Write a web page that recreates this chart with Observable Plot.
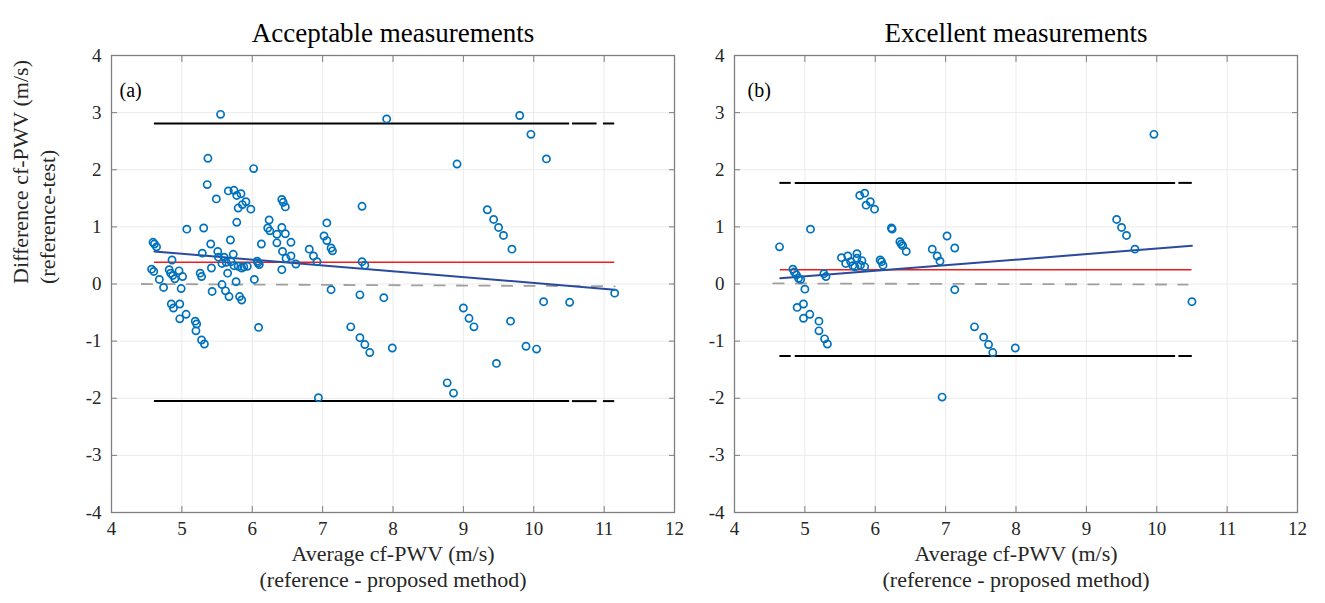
<!DOCTYPE html>
<html><head><meta charset="utf-8">
<script src="https://cdn.jsdelivr.net/npm/d3@7"></script>
<script src="https://cdn.jsdelivr.net/npm/@observablehq/plot@0.6"></script>
<style>
body{margin:0;background:#fff;}
#row{display:flex;width:1325px;height:603px;overflow:hidden;}
svg{display:block}
svg text{font-family:'Liberation Serif','Times New Roman',serif !important;}
</style></head><body><div id="row"></div>
<script>
// ---------- data ----------
const xTicks = [4,5,6,7,8,9,10,11,12];
const yTicks = [-4,-3,-2,-1,0,1,2,3,4];
const titles = ["Acceptable measurements", "Excellent measurements"];
const panelLabels = ["(a)", "(b)"];
const yLabelLines = ["Difference cf-PWV (m/s)", "(reference-test)"];
const xLabelLines = ["Average cf-PWV (m/s)", "(reference - proposed method)"];

// (a) acceptable measurements
const aX = [5.55,7.91,9.80,9.96,10.18,8.91,5.37,6.02,5.36,5.49,5.66,5.74,5.78,5.84,5.91,5.86,5.80,5.98,6.42,6.44,6.47,7.56,9.34,9.43,9.50,9.57,9.69,
  5.07,5.31,5.78,6.24,6.22,6.25,6.42,6.35,6.47,7.06,7.02,7.06,7.12,7.14,4.59,4.61,4.64,4.86,5.41,5.69,6.13,6.35,6.55,5.29,5.51,5.52,5.60,5.73,6.43,6.48,6.55,6.81,6.87,6.92,7.56,7.60,
  5.57,5.63,5.70,5.74,5.80,5.85,5.88,5.93,6.07,6.08,6.10,6.62,6.42,5.65,5.42,
  4.57,4.60,4.82,4.84,4.87,4.90,4.96,5.01,5.26,5.28,4.68,4.74,4.99,5.77,6.03,5.57,5.43,5.62,5.67,5.82,5.85,7.12,7.53,7.87,
  4.85,4.88,4.97,4.97,5.06,5.19,5.21,5.20,5.28,5.32,6.09,6.94,7.40,7.53,7.60,7.67,7.99,
  11.15,10.14,10.51,9.00,9.08,9.15,9.67,9.89,10.04,9.47,8.77,8.86];
const aY = [2.97,2.89,2.95,2.62,2.19,2.10,2.20,2.02,1.74,1.49,1.63,1.64,1.55,1.58,1.44,1.39,1.33,1.31,1.48,1.43,1.35,1.36,1.30,1.13,0.99,0.85,0.61,
  0.96,0.98,1.08,1.12,0.98,0.93,0.99,0.87,0.88,1.07,0.84,0.76,0.63,0.58,0.73,0.70,0.65,0.42,0.70,0.77,0.70,0.72,0.73,0.54,0.57,0.47,0.47,0.52,0.57,0.45,0.49,0.61,0.49,0.39,0.39,0.33,
  0.36,0.38,0.39,0.32,0.31,0.28,0.30,0.31,0.40,0.37,0.34,0.35,0.25,0.19,0.28,
  0.26,0.22,0.25,0.19,0.15,0.09,0.23,0.13,0.19,0.13,0.08,-0.06,-0.08,0.04,0.08,-0.01,-0.13,-0.12,-0.22,-0.22,-0.28,-0.10,-0.19,-0.24,
  -0.35,-0.42,-0.35,-0.61,-0.53,-0.65,-0.70,-0.82,-0.98,-1.05,-0.76,-1.99,-0.75,-0.94,-1.06,-1.20,-1.12,
  -0.16,-0.31,-0.32,-0.42,-0.60,-0.75,-0.65,-1.09,-1.14,-1.39,-1.73,-1.91];
const aMean = 0.38;
const aMeanRange = [4.61, 11.15];
const aUpperLoA = 2.81, aLowerLoA = -2.05;
const aLoASegments = [[4.61,10.51],[10.55,10.90],[10.99,11.15]];
const aRegX = [4.61, 11.15], aRegY = [0.57, -0.10];
const aZeroX = [4.43, 11.15], aZeroY = [0.00, -0.04];

// (b) excellent measurements
const bX = [4.64,4.83,4.85,4.88,4.91,4.94,5.00,5.08,4.89,4.98,4.98,5.07,5.20,5.20,5.28,5.32,5.27,5.30,5.52,5.58,5.61,5.65,5.68,5.74,5.74,5.81,5.79,5.85,5.71,
  5.78,5.85,5.93,5.87,5.99,6.24,6.23,6.35,6.37,6.39,6.44,6.07,6.09,6.11,6.81,6.88,6.92,7.02,7.13,7.13,6.95,7.41,7.54,7.61,7.67,7.99,9.43,9.50,9.57,9.69,10.50,9.96];
const bY = [0.65,0.26,0.21,0.16,0.10,0.08,-0.09,0.96,-0.41,-0.35,-0.60,-0.53,-0.65,-0.82,-0.96,-1.05,0.18,0.13,0.46,0.36,0.49,0.39,0.32,0.53,0.45,0.41,0.33,0.30,0.30,
  1.55,1.59,1.44,1.38,1.31,0.96,0.98,0.74,0.70,0.67,0.57,0.42,0.39,0.33,0.61,0.49,0.40,0.84,0.63,-0.10,-1.98,-0.75,-0.93,-1.06,-1.20,-1.12,1.13,0.99,0.85,0.61,-0.31,2.62];
const bMean = 0.25;
const bMeanRange = [4.65, 10.50];
const bUpperLoA = 1.77, bLowerLoA = -1.26;
const bLoASegments = [[4.645,4.806],[4.863,10.268],[10.315,10.505]];
const bRegX = [4.65, 10.50], bRegY = [0.10, 0.67];
const bZeroX = [4.55, 10.44], bZeroY = [0.01, -0.01];

// ---------- drawing ----------
const FONT = "'Liberation Serif', 'Times New Roman', serif";
const TXT = "#262626";
const AX = "#7f7f7f";
const fmt = d => String(d);

function panel(cfg) {
  const pts = cfg.xs.map((x, i) => ({x, y: cfg.ys[i]}));
  const loa = [];
  for (const yv of [cfg.upper, cfg.lower]) for (const [x1, x2] of cfg.segs) loa.push({y: yv, x1, x2});
  const reg = cfg.regX.map((x, i) => ({x, y: cfg.regY[i]}));
  const zero = cfg.zeroX.map((x, i) => ({x, y: cfg.zeroY[i]}));
  const marks = [
    Plot.gridX(xTicks, {stroke: "#ebebeb", strokeOpacity: 1, strokeWidth: 1}),
    Plot.gridY(yTicks, {stroke: "#ebebeb", strokeOpacity: 1, strokeWidth: 1}),
    Plot.frame({stroke: AX, strokeWidth: 1.3}),
    Plot.axisX(xTicks, {anchor: "bottom", tickSize: -6, fill: "none", stroke: AX, label: null}),
    Plot.axisX(xTicks, {anchor: "top", tickSize: -6, fill: "none", stroke: AX, label: null}),
    Plot.axisY(yTicks, {anchor: "left", tickSize: -6, fill: "none", stroke: AX, label: null}),
    Plot.axisY(yTicks, {anchor: "right", tickSize: -6, fill: "none", stroke: AX, label: null}),
    Plot.axisX(xTicks, {anchor: "bottom", tickSize: 0, tickPadding: 9, fontSize: 19, fontFamily: FONT, color: TXT, label: null, tickFormat: fmt}),
    Plot.axisY(yTicks, {anchor: "left", tickSize: 0, tickPadding: 10, fontSize: 19, fontFamily: FONT, color: TXT, label: null, tickFormat: fmt}),
    Plot.line(zero, {x: "x", y: "y", stroke: "#a0a0a0", strokeWidth: 1.8, strokeDasharray: "10.5,12"}),
    Plot.ruleY(loa, {y: "y", x1: "x1", x2: "x2", stroke: "#000", strokeWidth: 2}),
    Plot.ruleY([cfg.mean], {x1: cfg.meanRange[0], x2: cfg.meanRange[1], stroke: "#f01b1b", strokeWidth: 1.4}),
    Plot.line(reg, {x: "x", y: "y", stroke: "#2b4a9c", strokeWidth: 2}),
    Plot.dot(pts, {x: "x", y: "y", r: 3.6, stroke: "#0072BD", strokeWidth: 1.7, fill: "none"}),
    Plot.text([cfg.title], {text: d => d, frameAnchor: "top", dy: -33, fontSize: 27, fill: "#000", letterSpacing: "0.6px"}),
    Plot.text([cfg.tag], {text: d => d, frameAnchor: "top-left", dx: cfg.tagDx, dy: 27, textAnchor: "start", fontSize: 20, fill: "#000"}),
    Plot.text([xLabelLines[0]], {text: d => d, frameAnchor: "bottom", dy: 48, fontSize: 22, fill: TXT, letterSpacing: "0.3px"}),
    Plot.text([xLabelLines[1]], {text: d => d, frameAnchor: "bottom", dy: 74, fontSize: 22, fill: TXT, letterSpacing: "0.3px"})
  ];
  if (cfg.yLabel) {
    marks.push(Plot.text([yLabelLines[0]], {text: d => d, frameAnchor: "left", dx: -91, rotate: -90, fontSize: 22, fill: TXT, letterSpacing: "0.3px"}));
    marks.push(Plot.text([yLabelLines[1]], {text: d => d, frameAnchor: "left", dx: -64, rotate: -90, fontSize: 22, fill: TXT, letterSpacing: "0.3px"}));
  }
  return Plot.plot({
    width: cfg.width, height: 603,
    marginTop: 55, marginBottom: 91, marginLeft: cfg.ml, marginRight: cfg.mr,
    style: {fontFamily: FONT, background: "#fff", overflow: "visible"},
    x: {domain: [4, 12]},
    y: {domain: [-4, 4]},
    marks
  });
}

const row = document.getElementById("row");
row.appendChild(panel({width: 700, ml: 111, mr: 26, xs: aX, ys: aY, mean: aMean, meanRange: aMeanRange,
  upper: aUpperLoA, lower: aLowerLoA, segs: aLoASegments, regX: aRegX, regY: aRegY, zeroX: aZeroX, zeroY: aZeroY,
  title: titles[0], tag: panelLabels[0], tagDx: 8, yLabel: true}));
row.appendChild(panel({width: 625, ml: 34, mr: 28, xs: bX, ys: bY, mean: bMean, meanRange: bMeanRange,
  upper: bUpperLoA, lower: bLowerLoA, segs: bLoASegments, regX: bRegX, regY: bRegY, zeroX: bZeroX, zeroY: bZeroY,
  title: titles[1], tag: panelLabels[1], tagDx: 13, yLabel: false}));
</script></body></html>
